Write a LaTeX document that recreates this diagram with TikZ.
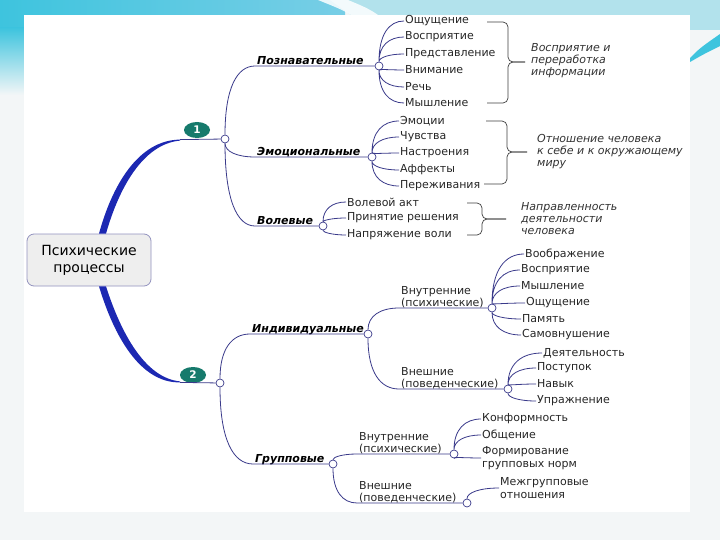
\documentclass[tikz,border=0pt]{standalone}
\usepackage{fontspec}
\setmainfont{DejaVu Sans}
\usetikzlibrary{calc,shapes.geometric}
\definecolor{mapB}{RGB}{58,58,138}
\definecolor{mapT}{RGB}{28,40,178}
\definecolor{mapG}{RGB}{22,122,108}
\definecolor{slideC}{RGB}{62,196,222}
\definecolor{slideM}{RGB}{120,206,230}
\definecolor{slideL}{RGB}{178,226,236}
\definecolor{slideBg}{RGB}{243,246,247}

\begin{document}
\begin{tikzpicture}[x=1pt,y=-1pt,
  link/.style={mapB,line width=0.8pt},
  brace/.style={black!75,line width=0.7pt,rounded corners=5pt},
  dot/.style={circle,draw=mapB,fill=white,line width=0.7pt,inner sep=0pt,minimum size=8pt},
  leaf/.style={anchor=west,inner sep=1pt,align=left,text=black!85,font=\fontsize{11}{12.5}\selectfont},
  branch/.style={anchor=south west,inner xsep=2pt,inner ysep=1.5pt,text depth=0pt,font=\fontsize{11}{12}\selectfont\bfseries\itshape},
  sub/.style={anchor=south west,align=left,inner xsep=2pt,inner ysep=1.5pt,text depth=0pt,text=black!85,font=\fontsize{11}{11.5}\selectfont},
  note/.style={anchor=west,align=left,inner sep=0pt,text=black!80,font=\fontsize{11}{12}\selectfont\itshape},
  badge/.style={ellipse,fill=mapG,text=white,inner sep=0pt,minimum width=26pt,minimum height=16pt,font=\fontsize{10.5}{10.5}\selectfont\bfseries},
  rootbox/.style={rounded corners=7pt,draw=mapB!55,fill=gray!13,line width=0.8pt,minimum width=124pt,minimum height=52pt,align=center,font=\fontsize{14}{17}\selectfont},
  fan/.style={to path={.. controls ($(\tikztostart)!.7!(\tikztostart|-\tikztotarget)$) and ($(\tikztotarget)!.6!(\tikztostart|-\tikztotarget)$) .. (\tikztotarget) \tikztonodes}}]
\useasboundingbox (0,0) rectangle (720,540);
% slide
\fill[slideBg] (0,0) rectangle (720,540);
\shade[left color=slideC,right color=slideM] (0,0) rectangle (345,30);
\fill[slideL] (330,0) -- (720,0) -- (720,30) -- (372,30) -- cycle;
\fill[white,opacity=.85] (318,0) -- (348,0) .. controls (372,10) .. (398,30) -- (372,30) .. controls (348,12) .. (318,0) -- cycle;
\shade[top color=slideC,bottom color=slideBg] (0,28) rectangle (24,95);
\fill[slideC] (690,58) .. controls (700,48) .. (720,34) -- (720,46) .. controls (704,54) .. (690,62) -- cycle;
\fill[white] (24,15) rectangle (690,512);

% root and numbered centres
\node[rootbox] (root) at (89,260) {Психические\\процессы};
\node[dot] (n1) at (225,139) {};
\node[dot] (n2) at (220,383) {};
\node[badge] (b1) at (197,130) {1};
\node[badge] (b2) at (193,375) {2};
\coordinate (t1) at (180,139.6);
\coordinate (t2) at (180,382.4);
\fill[mapT] ($(root.north)+(10,0)$) .. controls (112,186) and (138,140) .. (t1) -- (180,140.6) .. controls (143,144) and (119,188) .. ($(root.north)+(17,0)$) -- cycle;
\fill[mapT] ($(root.south)+(10,0)$) .. controls (114,336) and (140,383) .. (t2) -- (180,381.4) .. controls (145,378) and (121,333) .. ($(root.south)+(17,0)$) -- cycle;
\draw[link] (t1) -- (n1);
\draw[link] (t2) -- (n2);

% 1: cognitive
\node[dot] (kc) at (379,66) {};
\node[branch] (kog) at (255,66) {Познавательные};
\draw[link] (n1) to[fan] (kog.south west) -- (kc);
\node[leaf] (k1) at (404,21) {Ощущение};
\node[leaf] (k2) at (404,37) {Восприятие};
\node[leaf] (k3) at (404,54) {Представление};
\node[leaf] (k4) at (404,70) {Внимание};
\node[leaf] (k5) at (404,87) {Речь};
\node[leaf] (k6) at (404,103) {Мышление};
\draw[link] (kc) to[fan] (k1.west) (kc) to[fan] (k2.west) (kc) to[fan] (k3.west);
\draw[link] (kc) to[fan] (k4.west) (kc) to[fan] (k5.west) (kc) to[fan] (k6.west);
\draw[brace] (487,22) -- (508,22) -- (508,62) -- (525,62);
\draw[brace] (525,62) -- (508,62) -- (508,103) -- (487,103);
\node[note] (kn) at (531,61) {Восприятие и\\переработка\\информации};

% 1: emotional
\node[dot] (ec) at (372,157) {};
\node[branch] (emo) at (255,157) {Эмоциональные};
\draw[link] (n1) to[fan] (emo.south west) -- (ec);
\node[leaf] (e1) at (399,121) {Эмоции};
\node[leaf] (e2) at (399,137) {Чувства};
\node[leaf] (e3) at (399,153) {Настроения};
\node[leaf] (e4) at (399,170) {Аффекты};
\node[leaf] (e5) at (399,186) {Переживания};
\draw[link] (ec) to[fan] (e1.west) (ec) to[fan] (e2.west) (ec) to[fan] (e3.west);
\draw[link] (ec) to[fan] (e4.west) (ec) to[fan] (e5.west);
\draw[brace] (486,121) -- (507,121) -- (507,152) -- (527,152);
\draw[brace] (527,152) -- (507,152) -- (507,184) -- (484,184);
\node[note] (en) at (537,152) {Отношение человека\\к себе и к окружающему\\миру};

% 1: volitional
\node[dot] (vc) at (323,226) {};
\node[branch] (vol) at (255,226) {Волевые};
\draw[link] (n1) to[fan] (vol.south west) -- (vc);
\node[leaf] (v1) at (346,202) {Волевой акт};
\node[leaf] (v2) at (346,218) {Принятие решения};
\node[leaf] (v3) at (346,235) {Напряжение воли};
\draw[link] (vc) to[fan] (v1.west) (vc) to[fan] (v2.west) (vc) to[fan] (v3.west);
\draw[brace] (467,203) -- (482,203) -- (482,219) -- (506,219);
\draw[brace] (506,219) -- (482,219) -- (482,235) -- (467,235);
\node[note] (vn) at (521,219) {Направленность\\деятельности\\человека};

% 2: individual
\node[dot] (ic) at (368,334) {};
\node[branch] (ind) at (250,334) {Индивидуальные};
\draw[link] (n2) to[fan] (ind.south west) -- (ic);
\node[dot] (iic) at (492,308) {};
\node[sub] (iin) at (399,308) {Внутренние\\(психические)};
\draw[link] (ic) to[fan] (iin.south west) -- (iic);
\node[leaf] (a1) at (524,254) {Воображение};
\node[leaf] (a2) at (520,270) {Восприятие};
\node[leaf] (a3) at (520,286) {Мышление};
\node[leaf] (a4) at (525,303) {Ощущение};
\node[leaf] (a5) at (521,319) {Память};
\node[leaf] (a6) at (521,335) {Самовнушение};
\draw[link] (iic) to[fan] (a1.west) (iic) to[fan] (a2.west) (iic) to[fan] (a3.west);
\draw[link] (iic) to[fan] (a4.west) (iic) to[fan] (a5.west) (iic) to[fan] (a6.west);
\node[dot] (ioc) at (508,389) {};
\node[sub] (iout) at (399,389) {Внешние\\(поведенческие)};
\draw[link] (ic) to[fan] (iout.south west) -- (ioc);
\node[leaf] (p1) at (542,353) {Деятельность};
\node[leaf] (p2) at (536,368) {Поступок};
\node[leaf] (p3) at (536,384) {Навык};
\node[leaf] (p4) at (536,401) {Упражнение};
\draw[link] (ioc) to[fan] (p1.west) (ioc) to[fan] (p2.west) (ioc) to[fan] (p3.west) (ioc) to[fan] (p4.west);

% 2: group
\node[dot] (gc) at (333,464) {};
\node[branch] (grp) at (253,464) {Групповые};
\draw[link] (n2) to[fan] (grp.south west) -- (gc);
\node[dot] (gic) at (454,454) {};
\node[sub] (gin) at (357,454) {Внутренние\\(психические)};
\draw[link] (gc) to[fan] (gin.south west) -- (gic);
\node[leaf] (g1) at (481,419) {Конформность};
\node[leaf] (g2) at (481,435) {Общение};
\node[leaf] (g3) at (481,458) {Формирование\\групповых норм};
\draw[link] (gic) to[fan] (g1.west) (gic) to[fan] (g2.west) (gic) to[fan] (g3.west);
\node[dot] (goc) at (467,503) {};
\node[sub] (gout) at (357,503) {Внешние\\(поведенческие)};
\draw[link] (gc) to[fan] (gout.south west) -- (goc);
\node[leaf] (h1) at (499,488) {Межгрупповые\\отношения};
\draw[link] (goc) to[fan] (h1.west);
\end{tikzpicture}
\end{document}
